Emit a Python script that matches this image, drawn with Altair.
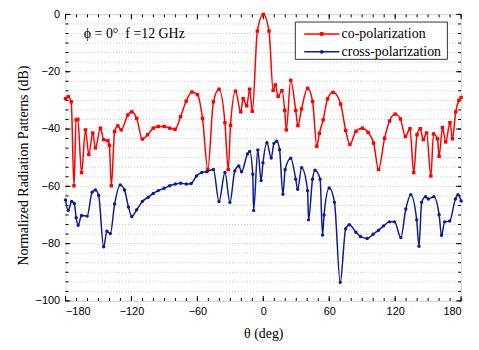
import altair as alt
import pandas as pd

# ---- data ----
theta_co = [-180, -177.5, -174.8, -172.3, -170.3, -168.8, -165.4, -161.8, -158.8, -155.2,
            -152.8, -148.2, -145.3, -141.4, -140.1, -138.3, -135.3, -132.4, -129.3, -123.3,
            -119.7, -115.2, -110.1, -105.3, -100.1, -95.6, -90.2, -85.1, -80.3, -75.3,
            -70.2, -65.0, -60.0, -55.3, -50.5, -45.4, -40.3, -34.9, -31.9, -29.8,
            -25.3, -20.5, -18.3, -15.1, -12.4, -10.0, -5.4, 0, 5.2, 9.0,
            11.0, 13.5, 17.0, 19.5, 20.9, 25.0, 29.5, 31.5, 34.8, 40.3,
            44.9, 48.7, 51.0, 54.5, 58.5, 63.5, 70.4, 75.0, 78.8, 84.3,
            90.2, 95.4, 100.4, 104.9, 110.4, 114.9, 120.0, 124.8, 129.3, 133.5,
            136.9, 139.9, 142.8, 145.6, 148.6, 152.5, 154.9, 158.5, 160.0, 163.1,
            166.0, 169.9, 172.1, 175.1, 178.0, 180]
co = [-29.4, -28.7, -30.5, -59.8, -36.8, -36.6, -55.2, -40.3, -48.9, -41.4,
      -46.6, -39.7, -43.7, -44.1, -45.7, -59.8, -40.9, -38.9, -40.3, -35.1,
      -34.0, -36.3, -43.5, -42.0, -39.7, -39.1, -39.1, -39.7, -40.1, -35.7,
      -30.3, -27.1, -28.0, -36.3, -54.1, -30.5, -26.1, -37.8, -54.1, -38.7,
      -26.8, -34.0, -29.4, -31.9, -26.1, -33.8, -5.8, 0.0, -5.8, -26.5,
      -24.6, -28.6, -26.6, -33.5, -40.3, -23.0, -33.5, -38.8, -33.0, -25.8,
      -30.4, -46.0, -41.5, -36.8, -29.5, -27.2, -31.3, -40.5, -45.4, -40.8,
      -39.7, -41.2, -44.9, -54.1, -43.2, -37.2, -34.8, -36.5, -42.6, -39.9,
      -55.2, -42.0, -39.9, -43.7, -41.4, -56.4, -41.7, -43.4, -49.5, -39.5,
      -44.5, -37.8, -43.4, -34.0, -30.0, -29.0]

theta_cross = [-180, -177.5, -174.4, -172.0, -170.3, -168.5, -165.4, -160.3, -155.8, -152.8,
               -149.8, -145.3, -142.3, -139.2, -135.3, -130.2, -126.3, -122.7, -119.7, -115.2,
               -110.1, -104.7, -100.1, -95.6, -90.2, -85.1, -80.0, -75.2, -70.1, -65.6,
               -60.8, -56.0, -51.4, -45.4, -40.3, -34.9, -30.4, -25.9, -22.3, -19.8,
               -14.4, -12.4, -9.6, -8.8, -5.0, -2.0, -0.3, 3.3, 7.2, 9.7,
               12.2, 14.8, 17.9, 19.9, 25.0, 29.5, 31.3, 34.9, 40.3, 41.2,
               44.8, 47.0, 51.7, 53.9, 55.3, 60.0, 64.8, 70.0, 75.0, 78.3,
               84.3, 88.4, 94.5, 99.9, 104.9, 109.5, 114.9, 119.4, 125.2, 129.7,
               134.2, 139.6, 141.7, 144.1, 147.7, 150.1, 155.2, 160.0, 162.2, 165.1,
               169.7, 174.8, 177.2, 180]
cross = [-64.8, -68.4, -65.3, -66.0, -71.0, -73.6, -70.2, -70.4, -62.1, -61.3,
         -63.2, -81.1, -75.7, -76.5, -66.2, -59.5, -61.3, -67.2, -70.5, -68.2,
         -65.3, -63.8, -62.5, -61.5, -60.7, -59.8, -59.2, -58.9, -59.2, -59.0,
         -56.4, -55.2, -54.9, -54.1, -65.3, -55.2, -65.6, -54.6, -52.9, -54.9,
         -48.7, -47.8, -55.8, -68.4, -47.3, -58.0, -51.8, -44.8, -50.1, -45.0,
         -44.3, -47.2, -62.8, -54.1, -50.2, -57.5, -61.0, -53.5, -61.5, -71.7,
         -57.5, -54.4, -57.5, -77.0, -70.0, -60.6, -65.6, -93.5, -74.8, -73.4,
         -76.0, -77.5, -78.2, -76.7, -75.3, -73.8, -72.4, -72.4, -77.9, -67.9,
         -62.9, -71.7, -80.9, -65.6, -63.6, -64.4, -63.6, -69.9, -77.1, -72.4,
         -72.1, -64.4, -62.9, -65.1]

x_major = [-180, -120, -60, 0, 60, 120, 180]
x_minor = list(range(-180, 181, 10))
y_major = [-100, -80, -60, -40, -20, 0]
y_minor = [round(-100 + i * 20 / 6, 4) for i in range(31)]
series_names = ["co-polarization", "cross-polarization"]
series_colors = ["#ff0000", "#0f1c8c"]
series_shapes = ["square", "circle"]
annotation = "\u03d5 = 0\u00b0\u00a0\u00a0f =12 GHz"

W, H = 399, 289
xs = alt.Scale(domain=[-180, 180], nice=False, zero=False)
ys = alt.Scale(domain=[-100, 0], nice=False, zero=False)

df_co = pd.DataFrame({"theta": theta_co, "db": co})
df_cx = pd.DataFrame({"theta": theta_cross, "db": cross})

x_axis = alt.Axis(values=x_major, ticks=False, grid=False, domain=False,
                  labelFont="Liberation Sans", labelFontSize=11, labelColor="black",
                  labelPadding=5, title="\u03b8 (deg)", titleFont="Liberation Serif",
                  titleFontSize=14, titleFontWeight="normal", titleColor="black",
                  titlePadding=10)
y_axis = alt.Axis(values=y_major, ticks=False, grid=False, domain=False,
                  labelFont="Liberation Sans", labelFontSize=11, labelColor="black",
                  labelPadding=6, title="Normalized Radiation Patterns (dB)",
                  titleFont="Liberation Serif", titleFontSize=14, titleFontWeight="normal",
                  titleColor="black", titlePadding=5, titleY=152)

def X(field):
    return alt.X(field, scale=xs, axis=x_axis)

def Y(field):
    return alt.Y(field, scale=ys, axis=y_axis)

# grid
grid = alt.Chart(pd.DataFrame({"g": y_minor})).mark_rule(
    color="#b8b8b8", strokeDash=[1, 2], strokeWidth=0.8
).encode(y=Y("g:Q"), x=alt.value(0), x2=alt.value(W))

layers = [grid]

# ticks (inward)
def xticks(vals, length):
    d = pd.DataFrame({"v": vals})
    bot = alt.Chart(d).mark_rule(color="black", strokeWidth=1).encode(
        x=X("v:Q"), y=alt.value(H), y2=alt.value(H - length))
    top = alt.Chart(d).mark_rule(color="black", strokeWidth=1).encode(
        x=X("v:Q"), y=alt.value(0), y2=alt.value(length))
    return [bot, top]

def yticks(vals, length):
    d = pd.DataFrame({"v": vals})
    left = alt.Chart(d).mark_rule(color="black", strokeWidth=1).encode(
        y=Y("v:Q"), x=alt.value(0), x2=alt.value(length))
    right = alt.Chart(d).mark_rule(color="black", strokeWidth=1).encode(
        y=Y("v:Q"), x=alt.value(W), x2=alt.value(W - length))
    return [left, right]

layers += xticks(x_minor, 3) + xticks(x_major, 5) + yticks(y_minor, 3) + yticks(y_major, 5)

# curves
for df, color, shape in [(df_co, series_colors[0], series_shapes[0]),
                         (df_cx, series_colors[1], series_shapes[1])]:
    line = alt.Chart(df).mark_line(color=color, strokeWidth=1.5, interpolate="monotone").encode(
        x=X("theta:Q"), y=Y("db:Q"))
    pts = alt.Chart(df).mark_point(shape=shape, filled=True, color=color, size=12, opacity=1).encode(
        x=X("theta:Q"), y=Y("db:Q"))
    layers += [line, pts]

# annotation
one = pd.DataFrame({"t": [annotation]})
layers.append(alt.Chart(one).mark_text(align="left", baseline="middle", font="Liberation Serif",
                                       fontSize=14, color="black").encode(
    text="t:N", x=alt.value(18.5), y=alt.value(20)))

# legend
box = alt.Chart(one).mark_rect(fill="white", stroke="black", strokeWidth=0.8).encode(
    x=alt.value(231.8), x2=alt.value(385.2), y=alt.value(7.7), y2=alt.value(45.3))
layers.append(box)
for i in range(2):
    yy = 19.7 + 18 * i
    d = pd.DataFrame({"t": [series_names[i]]})
    layers.append(alt.Chart(d).mark_rule(color=series_colors[i], strokeWidth=1.5).encode(
        x=alt.value(240.8), x2=alt.value(276.2), y=alt.value(yy)))
    layers.append(alt.Chart(d).mark_point(shape=series_shapes[i], filled=True, opacity=1,
                                          color=series_colors[i], size=14).encode(
        x=alt.value(258.5), y=alt.value(yy)))
    layers.append(alt.Chart(d).mark_text(align="left", baseline="middle", font="Liberation Serif",
                                         fontSize=14, color="black").encode(
        text="t:N", x=alt.value(278.5), y=alt.value(yy)))

chart = alt.layer(*layers).properties(
    width=W, height=H,
    autosize=alt.AutoSizeParams(type="none"),
    padding={"left": 58, "top": 5, "right": 10, "bottom": 45},
).configure_view(stroke="black", strokeWidth=1).configure(background="white")

chart.save("out.html", embed_options={"renderer": "svg", "actions": False})
